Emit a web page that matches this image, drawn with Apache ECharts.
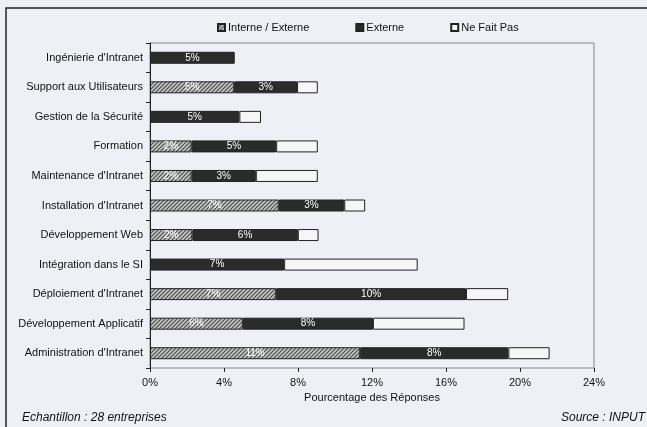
<!DOCTYPE html>
<html>
<head>
<meta charset="utf-8">
<script src="https://cdn.jsdelivr.net/npm/echarts@6/dist/echarts.min.js"></script>
<style>
  html, body { margin: 0; padding: 0; background: #eef0f5; }
  #main { width: 647px; height: 427px; }
</style>
</head>
<body>
<div id="main"></div>
<script>
// categories, top to bottom
const categories = [
    "Ingénierie d'Intranet",
    "Support aux Utilisateurs",
    "Gestion de la Sécurité",
    "Formation",
    "Maintenance d'Intranet",
    "Installation d'Intranet",
    "Développement Web",
    "Intégration dans le SI",
    "Déploiement d'Intranet",
    "Développement Applicatif",
    "Administration d'Intranet"
];
// values in %
const interneExterne = [null, 4.55, null, 2.25, 2.25, 6.96, 2.29, null, 6.82, 5.02, 11.36];
const externe = [4.58, 3.40, 4.83, 4.57, 3.47, 3.54, 5.70, 7.25, 10.26, 7.03, 8.01];
const neFaitPas = [null, 1.12, 1.17, 2.25, 3.35, 1.13, 1.12, 7.22, 2.28, 4.95, 2.23];
// printed labels
const interneLabels = ['', '5%', '', '2%', '2%', '7%', '2%', '', '7%', '6%', '11%'];
const externeLabels = ['5%', '3%', '5%', '5%', '3%', '3%', '6%', '7%', '10%', '8%', '8%'];
const xTicks = [0, 4, 8, 12, 16, 20, 24];

const FONT = 'Liberation Sans';

// hatched fill for "Interne / Externe"
function hatch() {
    const c = document.createElement('canvas');
    c.width = 4;
    c.height = 4;
    const ctx = c.getContext('2d');
    ctx.fillStyle = '#c4c4c4';
    ctx.fillRect(0, 0, 4, 4);
    ctx.strokeStyle = '#4a4a4a';
    ctx.lineWidth = 1.1;
    ctx.beginPath();
    ctx.moveTo(-1, 5); ctx.lineTo(5, -1);
    ctx.moveTo(-1, 1); ctx.lineTo(1, -1);
    ctx.moveTo(3, 5); ctx.lineTo(5, 3);
    ctx.stroke();
    return c;
}

const chart = echarts.init(document.getElementById('main'));

const segLabel = (labels) => ({
    show: true,
    position: 'inside',
    color: '#fff',
    fontFamily: FONT,
    fontSize: 10,
    formatter: p => labels[p.dataIndex]
});

chart.setOption({
    backgroundColor: '#eef0f5',
    animation: false,
    legend: {
        left: 217,
        top: 22,
        padding: 0,
        itemWidth: 7,
        itemHeight: 7,
        itemGap: 46,
        icon: 'rect',
        textStyle: { fontFamily: FONT, fontSize: 11, color: '#111', padding: [0, 0, 0, -2] },
        data: ['Interne / Externe', 'Externe', 'Ne Fait Pas']
    },
    grid: {
        left: 150,
        right: 53,
        top: 43,
        bottom: 59,
        show: true,
        borderColor: '#888',
        borderWidth: 1
    },
    xAxis: {
        type: 'value',
        min: xTicks[0],
        max: xTicks[xTicks.length - 1],
        interval: 4,
        name: 'Pourcentage des Réponses',
        nameLocation: 'middle',
        nameGap: 22,
        nameTextStyle: { fontFamily: FONT, fontSize: 11, color: '#111' },
        axisLine: { lineStyle: { color: '#222', width: 1 } },
        axisTick: { show: true, length: 4, lineStyle: { color: '#222' } },
        splitLine: { show: false },
        axisLabel: {
            fontFamily: FONT, fontSize: 11, color: '#111', margin: 9,
            formatter: '{value}%'
        }
    },
    yAxis: {
        type: 'category',
        inverse: true,
        data: categories,
        axisLine: { lineStyle: { color: '#222', width: 1 } },
        axisTick: { show: true, length: 4, lineStyle: { color: '#222' } },
        axisLabel: { fontFamily: FONT, fontSize: 11, color: '#111', margin: 7 }
    },
    series: [
        {
            name: 'Interne / Externe',
            type: 'bar',
            stack: 'tot',
            barWidth: 12,
            data: interneExterne,
            itemStyle: {
                color: { image: hatch(), repeat: 'repeat' },
                borderColor: '#222',
                borderWidth: 1
            },
            label: segLabel(interneLabels)
        },
        {
            name: 'Externe',
            type: 'bar',
            stack: 'tot',
            barWidth: 12,
            data: externe,
            itemStyle: { color: '#2b2b2b', borderColor: '#222', borderWidth: 1 },
            label: segLabel(externeLabels)
        },
        {
            name: 'Ne Fait Pas',
            type: 'bar',
            stack: 'tot',
            barWidth: 12,
            data: neFaitPas,
            itemStyle: { color: '#f6f6f8', borderColor: '#222', borderWidth: 1 }
        }
    ],
    graphic: [
        {
            type: 'rect',
            shape: { x: 6, y: 8, width: 700, height: 500 },
            style: { fill: 'none', stroke: '#222', lineWidth: 1.5 },
            silent: true
        },
        {
            type: 'text',
            left: 22,
            top: 412,
            style: {
                text: 'Echantillon : 28 entreprises',
                font: 'italic 12px "Liberation Sans"',
                fill: '#111'
            }
        },
        {
            type: 'text',
            right: 2,
            top: 412,
            style: {
                text: 'Source : INPUT',
                font: 'italic 12px "Liberation Sans"',
                fill: '#111'
            }
        }
    ]
});
</script>
</body>
</html>
